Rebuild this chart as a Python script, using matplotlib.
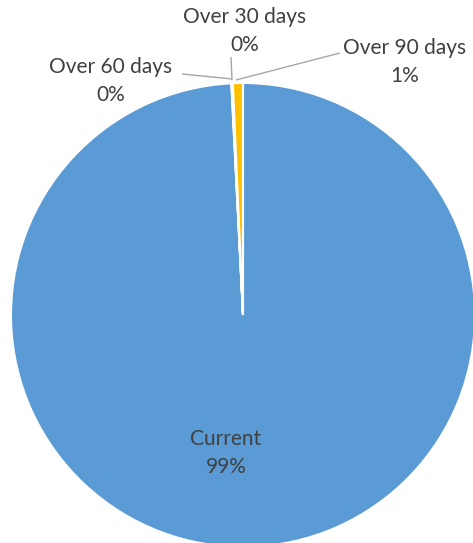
import matplotlib
matplotlib.use("Agg")
import matplotlib.pyplot as plt
import numpy as np

categories = ["Current", "Over 30 days", "Over 60 days", "Over 90 days"]
values = [99.2, 0.03, 0.07, 0.7]
pct_labels = ["99%", "0%", "0%", "1%"]
colors = ["#5B9BD5", "#ED7D31", "#A5A5A5", "#FFC000"]

plt.rcParams['font.family'] = ['Lato', 'DejaVu Sans']

W, H = 473, 543
fig = plt.figure(figsize=(W / 100, H / 100), dpi=100)
ax = fig.add_axes([0, 0, 1, 1])
cx, cy, R = 243, 315, 232  # pixel centre (from top) and radius

wedges, _ = ax.pie(values, colors=colors, startangle=90, counterclock=False,
                   radius=1.0, wedgeprops=dict(edgecolor='white', linewidth=1.5))
ax.set_xlim(-cx / R, (W - cx) / R)
ax.set_ylim(-(H - cy) / R, cy / R)
ax.set_aspect('equal')
ax.axis('off')

txt_color = "#404040"
fs = 15
ls = 1.45

def px(x, y):
    return ((x - cx) / R, (cy - y) / R)

ax.text(*px(226, 453), f"{categories[0]}\n{pct_labels[0]}", ha='center', va='center',
        fontsize=fs, color=txt_color, linespacing=ls)
ax.text(*px(245, 31), f"{categories[1]}\n{pct_labels[1]}", ha='center', va='center',
        fontsize=fs, color=txt_color, linespacing=ls)
ax.text(*px(111, 81), f"{categories[2]}\n{pct_labels[2]}", ha='center', va='center',
        fontsize=fs, color=txt_color, linespacing=ls)
ax.text(*px(405, 62), f"{categories[3]}\n{pct_labels[3]}", ha='center', va='center',
        fontsize=fs, color=txt_color, linespacing=ls)

lc = "#A6A6A6"
def leader(pts):
    xs, ys = zip(*[px(x, y) for x, y in pts])
    ax.plot(xs, ys, color=lc, lw=1.0, solid_capstyle='butt')

leader([(231, 57), (232, 80)])
leader([(182, 74), (232, 79)])
leader([(340, 53), (236, 80)])

fig.savefig("out.png", dpi=100)
